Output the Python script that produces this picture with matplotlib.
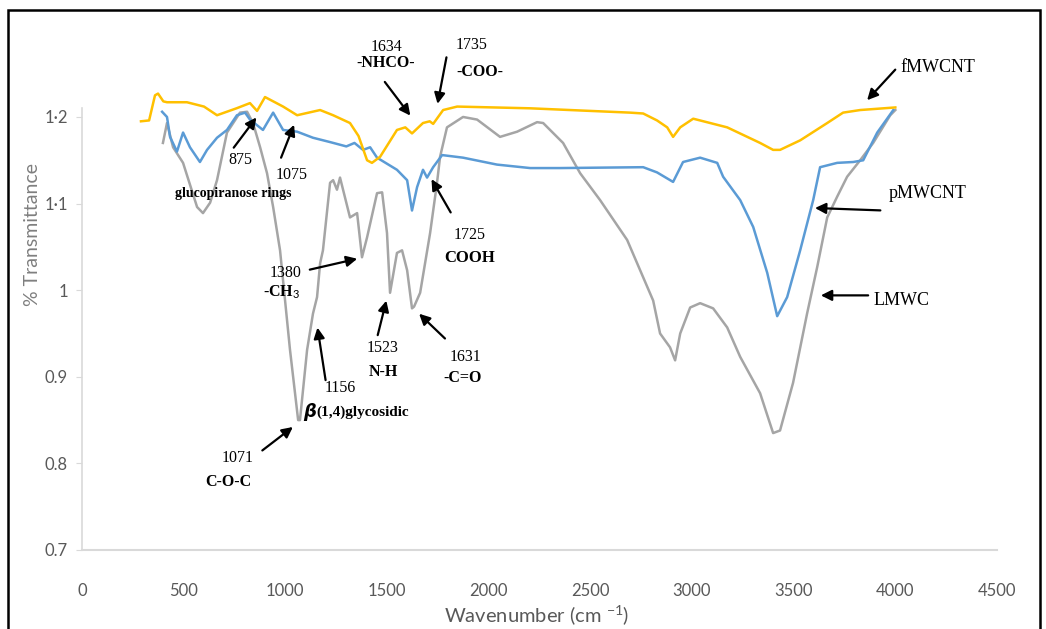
import matplotlib
matplotlib.use('Agg')
import matplotlib.pyplot as plt
from matplotlib.patches import Rectangle
import numpy as np

plt.rcParams['mathtext.fontset'] = 'custom'
plt.rcParams['mathtext.rm'] = 'Lato'

# FTIR spectra (wavenumber cm-1, transmittance)
f_wn = [290, 330, 359, 374, 400, 418, 516, 600, 664, 760, 826, 861, 900, 989, 1058, 1171,
        1235, 1318, 1360, 1402, 1426, 1466, 1549, 1590, 1623, 1677, 1710, 1727, 1776, 1845,
        2204, 2400, 2696, 2760, 2828, 2878, 2907, 2942, 3006, 3173, 3335, 3399, 3433, 3532,
        3665, 3743, 3827, 4000]
f_tr = [1.195, 1.196, 1.225, 1.227, 1.218, 1.217, 1.217, 1.212, 1.202, 1.210, 1.216, 1.207,
        1.223, 1.212, 1.202, 1.208, 1.202, 1.193, 1.178, 1.150, 1.147, 1.154, 1.185, 1.188,
        1.181, 1.193, 1.195, 1.192, 1.208, 1.212, 1.210, 1.208, 1.205, 1.204, 1.196, 1.188,
        1.177, 1.188, 1.198, 1.188, 1.170, 1.162, 1.162, 1.173, 1.193, 1.205, 1.208, 1.211]

p_wn = [394, 418, 433, 467, 497, 531, 580, 615, 664, 713, 762, 802, 826, 890, 940, 989,
        1058, 1136, 1220, 1300, 1340, 1382, 1417, 1451, 1549, 1599, 1623, 1648, 1677, 1697,
        1727, 1771, 1874, 2041, 2204, 2351, 2760, 2828, 2907, 2956, 3040, 3124, 3153, 3237,
        3301, 3370, 3419, 3468, 3532, 3596, 3630, 3714, 3793, 3842, 3911, 3990]
p_tr = [1.206, 1.200, 1.177, 1.160, 1.182, 1.165, 1.148, 1.162, 1.176, 1.185, 1.202, 1.205,
        1.197, 1.185, 1.205, 1.185, 1.183, 1.176, 1.171, 1.166, 1.170, 1.162, 1.165, 1.153,
        1.139, 1.127, 1.092, 1.119, 1.139, 1.130, 1.142, 1.156, 1.153, 1.145, 1.141, 1.141,
        1.142, 1.136, 1.125, 1.148, 1.153, 1.147, 1.131, 1.104, 1.073, 1.020, 0.970, 0.992,
        1.046, 1.104, 1.142, 1.147, 1.148, 1.150, 1.182, 1.208]

l_wn = [398, 418, 448, 497, 566, 595, 630, 664, 713, 777, 812, 841, 876, 910, 940, 974,
        1023, 1063, 1072, 1107, 1136, 1156, 1171, 1185, 1220, 1235, 1254, 1269, 1318, 1353,
        1377, 1402, 1451, 1476, 1500, 1515, 1549, 1574, 1599, 1623, 1633, 1663, 1712, 1746,
        1761, 1795, 1874, 1943, 2056, 2140, 2238, 2268, 2366, 2450, 2548, 2681, 2809, 2843,
        2892, 2917, 2942, 2991, 3040, 3104, 3173, 3237, 3335, 3399, 3433, 3497, 3566, 3616,
        3665, 3714, 3763, 3827, 3891, 3975, 4000]
l_tr = [1.170, 1.193, 1.165, 1.147, 1.096, 1.089, 1.101, 1.127, 1.182, 1.205, 1.206, 1.193,
        1.165, 1.135, 1.096, 1.046, 0.931, 0.850, 0.850, 0.931, 0.973, 0.992, 1.031, 1.046,
        1.124, 1.127, 1.116, 1.130, 1.084, 1.089, 1.038, 1.061, 1.112, 1.113, 1.066, 0.997,
        1.043, 1.046, 1.023, 0.979, 0.981, 0.997, 1.066, 1.124, 1.154, 1.188, 1.200, 1.197,
        1.177, 1.183, 1.194, 1.193, 1.170, 1.135, 1.104, 1.058, 0.988, 0.950, 0.934, 0.919,
        0.950, 0.980, 0.985, 0.979, 0.957, 0.923, 0.881, 0.835, 0.838, 0.893, 0.973, 1.027,
        1.084, 1.108, 1.131, 1.150, 1.170, 1.202, 1.208]

y_ticks = [0.7, 0.8, 0.9, 1.0, 1.1, 1.2]
y_ticklabels = ['0.7', '0.8', '0.9', '1', '1\u00b71', '1\u00b72']
x_ticks = [0, 500, 1000, 1500, 2000, 2500, 3000, 3500, 4000, 4500]

fig = plt.figure(figsize=(10.46, 6.29), dpi=100)
ax = fig.add_axes([82/1046, 79/629, 915/1046, 485/629])

ax.plot(l_wn, l_tr, color='#a5a5a5', lw=1.8)
ax.plot(p_wn, p_tr, color='#5b9bd5', lw=1.8)
ax.plot(f_wn, f_tr, color='#ffc000', lw=1.8)

ax.set_xlim(0, 4500)
ax.set_ylim(0.7, 1.26)
ax.set_xticks(x_ticks)
ax.set_xticklabels([str(t) for t in x_ticks])
ax.set_yticks(y_ticks)
ax.set_yticklabels(y_ticklabels)
for s in ['top', 'right']:
    ax.spines[s].set_visible(False)
ax.spines['left'].set_color('#d9d9d9')
ax.spines['bottom'].set_color('#d9d9d9')
ax.spines['left'].set_linewidth(1.2)
ax.spines['bottom'].set_linewidth(1.5)
ax.spines['left'].set_bounds(0.7, 1.21)
ax.tick_params(axis='x', length=0, pad=24, labelsize=12, labelcolor='#595959')
ax.tick_params(axis='y', length=4, color='#d9d9d9', pad=6, labelsize=12, labelcolor='#595959')
for lab in ax.get_xticklabels() + ax.get_yticklabels():
    lab.set_fontfamily('Lato')

fig.text(33/1046, 1 - 235/629, '% Transmittance', rotation=90, ha='center', va='center',
         fontsize=14, color='#7f7f7f', family='Lato')
fig.text(537/1046, 1 - 616/629, 'Wavenumber (cm $^{-1}$)', ha='center', va='center',
         fontsize=14.5, color='#595959', family='Lato')

serif = 'Liberation Serif'
aprops = dict(arrowstyle='-|>', color='black', lw=1.6, mutation_scale=16)


def arrow(tail, head):
    ax.annotate('', xy=head, xytext=tail, arrowprops=aprops, annotation_clip=False)


def label(x, y, s, bold=False, size=11.5, ha='center'):
    ax.text(x, y, s, ha=ha, va='center', fontsize=size, family=serif,
            fontweight='bold' if bold else 'normal', clip_on=False)


# glucopiranose bands
label(777, 1.150, '875')
arrow((738, 1.162), (866, 1.202))
label(1033, 1.133, '1075')
arrow((974, 1.150), (1048, 1.194))
label(743, 1.112, 'glucopiranose rings', bold=True, size=10)

# fMWCNT bands
label(1496, 1.281, '1634')
label(1496, 1.262, '-NHCO-', bold=True)
arrow((1481, 1.243), (1623, 1.199))
label(1918, 1.283, '1735')
label(1958, 1.252, '-COO-', bold=True)
arrow((1795, 1.272), (1746, 1.212))

# pMWCNT band
label(1908, 1.064, '1725')
label(1908, 1.037, 'COOH', bold=True, size=12)
arrow((1820, 1.087), (1712, 1.131))

# LMWC bands
label(999, 1.020, '1380')
label(984, 0.998, '-CH$_3$', bold=True)
arrow((1107, 1.023), (1367, 1.037))
label(1269, 0.887, '1156')
arrow((1200, 0.893), (1156, 0.960))
ax.text(1087, 0.859, r'$\boldsymbol{\beta}$', ha='left', va='center', fontsize=13, clip_on=False)
label(1155, 0.859, '(1,4)glycosidic', bold=True, size=11, ha='left')
label(767, 0.806, '1071')
label(718, 0.778, 'C-O-C', bold=True)
arrow((876, 0.813), (1048, 0.844))
label(1476, 0.933, '1523')
label(1481, 0.905, 'N-H', bold=True)
arrow((1451, 0.945), (1500, 0.991))
label(1884, 0.923, '1631')
label(1874, 0.899, '-C=O', bold=True)
arrow((1795, 0.942), (1648, 0.975))

# series names
label(4024, 1.257, 'fMWCNT', size=13, ha='left')
arrow((4009, 1.257), (3852, 1.217))
label(3965, 1.112, 'pMWCNT', size=13, ha='left')
arrow((3940, 1.092), (3591, 1.095))
label(3895, 0.988, 'LMWC', size=13, ha='left')
arrow((3880, 0.994), (3620, 0.994))

fig.patches.append(Rectangle((8/1046, -0.05), 1032/1046, 1.05 - 10/629, transform=fig.transFigure,
                             fill=False, edgecolor='black', lw=1.8))

fig.savefig('out.png', dpi=100)
